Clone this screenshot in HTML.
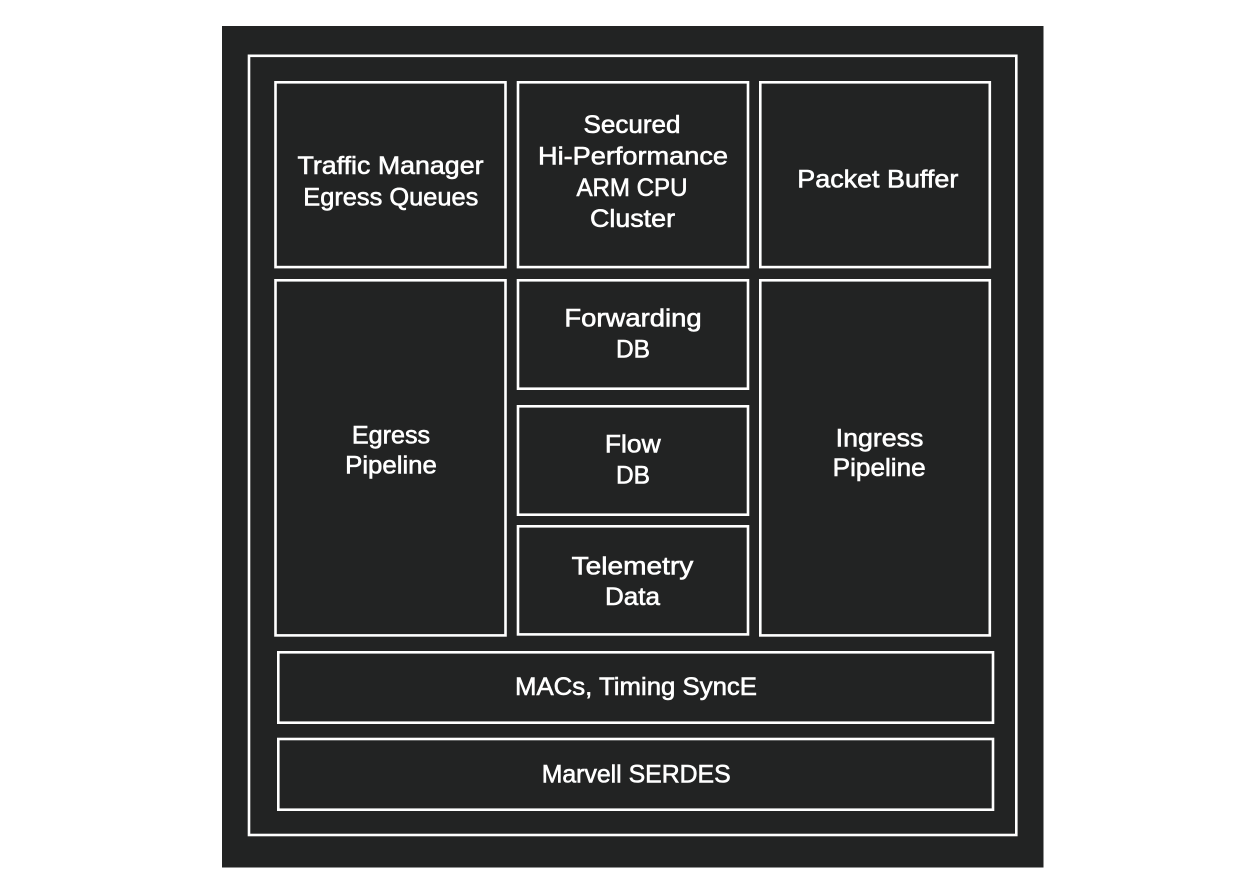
<!DOCTYPE html>
<html>
<head>
<meta charset="utf-8">
<style>
  html, body { margin: 0; padding: 0; background: #ffffff; }
  body { width: 1246px; height: 896px; overflow: hidden; }
  svg { display: block; }
  text {
    font-family: "Liberation Sans", "DejaVu Sans", sans-serif;
    font-size: 25px;
    fill: #ffffff;
    stroke: #ffffff;
    stroke-width: 0.6px;
    text-anchor: middle;
  }
  rect.b { fill: none; stroke: #ffffff; stroke-width: 2.6; }
</style>
</head>
<body>
<svg width="1246" height="896" viewBox="0 0 1246 896" xmlns="http://www.w3.org/2000/svg">
  <rect x="0" y="0" width="1246" height="896" fill="#ffffff"/>
  <rect x="222" y="26" width="821.5" height="841.5" fill="#222323"/>

  <!-- outer border -->
  <rect class="b" x="249" y="55.8" width="767.3" height="779.2"/>

  <!-- top row -->
  <rect class="b" x="275.5" y="82.3" width="230" height="184.8"/>
  <rect class="b" x="518" y="82.3" width="230" height="184.8"/>
  <rect class="b" x="760.3" y="82.3" width="229.5" height="184.8"/>

  <!-- middle row -->
  <rect class="b" x="275.5" y="280.3" width="230" height="355.1"/>
  <rect class="b" x="518" y="280.3" width="230" height="108.4"/>
  <rect class="b" x="518" y="406.3" width="230" height="108.4"/>
  <rect class="b" x="518" y="526.3" width="230" height="108.1"/>
  <rect class="b" x="760.3" y="280.3" width="229.5" height="355.1"/>

  <!-- bottom bars -->
  <rect class="b" x="278.3" y="652.3" width="714.7" height="70.4"/>
  <rect class="b" x="278.3" y="739" width="714.7" height="70.7"/>

  <!-- labels -->
  <text x="390.5" y="174" textLength="186" lengthAdjust="spacingAndGlyphs">Traffic Manager</text>
  <text x="390.8" y="205.5" textLength="175" lengthAdjust="spacingAndGlyphs">Egress Queues</text>

  <text x="632" y="133" textLength="97" lengthAdjust="spacingAndGlyphs">Secured</text>
  <text x="633" y="164.5" textLength="190" lengthAdjust="spacingAndGlyphs">Hi-Performance</text>
  <text x="632" y="196" textLength="111" lengthAdjust="spacingAndGlyphs">ARM CPU</text>
  <text x="632.5" y="227" textLength="85" lengthAdjust="spacingAndGlyphs">Cluster</text>

  <text x="877.8" y="187.5" textLength="161" lengthAdjust="spacingAndGlyphs">Packet Buffer</text>

  <text x="391" y="443.3" textLength="78.3" lengthAdjust="spacingAndGlyphs">Egress</text>
  <text x="391" y="473.5" textLength="91.7" lengthAdjust="spacingAndGlyphs">Pipeline</text>

  <text x="633" y="326.7" textLength="137.3" lengthAdjust="spacingAndGlyphs">Forwarding</text>
  <text x="633" y="357.5" textLength="34" lengthAdjust="spacingAndGlyphs">DB</text>

  <text x="632.8" y="452.7" textLength="55.7" lengthAdjust="spacingAndGlyphs">Flow</text>
  <text x="633" y="483.3" textLength="34" lengthAdjust="spacingAndGlyphs">DB</text>

  <text x="632.5" y="574.3" textLength="121.7" lengthAdjust="spacingAndGlyphs">Telemetry</text>
  <text x="632.5" y="605" textLength="55" lengthAdjust="spacingAndGlyphs">Data</text>

  <text x="879.5" y="446.7" textLength="87.7" lengthAdjust="spacingAndGlyphs">Ingress</text>
  <text x="879.2" y="476" textLength="93" lengthAdjust="spacingAndGlyphs">Pipeline</text>

  <text x="636" y="695" textLength="242" lengthAdjust="spacingAndGlyphs">MACs, Timing SyncE</text>
  <text x="636.2" y="782.7" textLength="189" lengthAdjust="spacingAndGlyphs">Marvell SERDES</text>
</svg>
</body>
</html>
